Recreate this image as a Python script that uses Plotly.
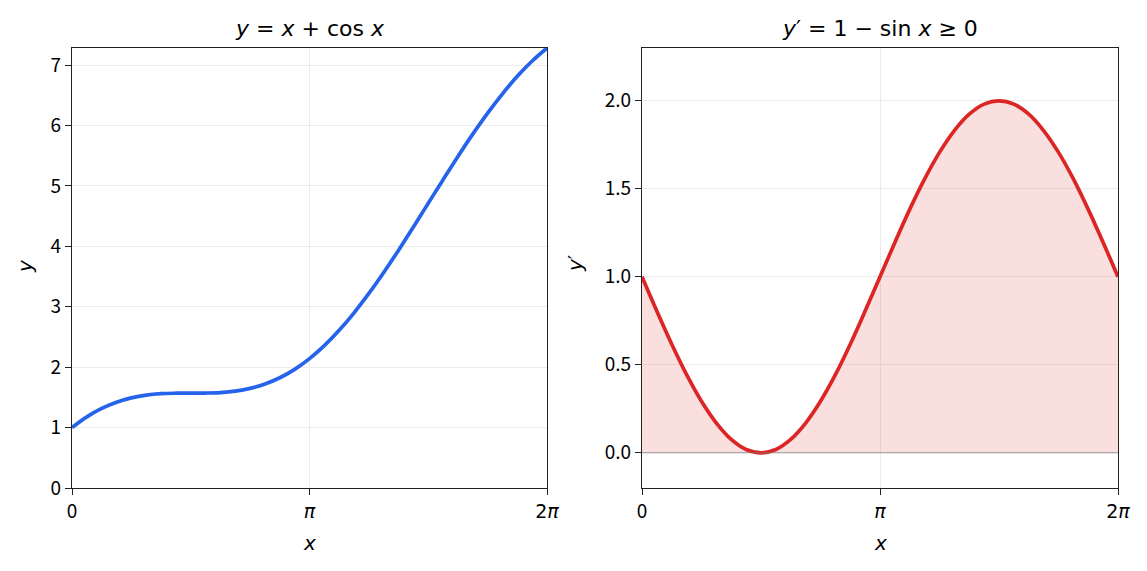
import plotly.graph_objects as go

# sampled x positions (0 .. 2*pi)
x_vals = [0.000, 0.196, 0.393, 0.589, 0.785, 0.982, 1.178, 1.374, 1.571, 1.767, 1.963,
          2.160, 2.356, 2.553, 2.749, 2.945, 3.142, 3.338, 3.534, 3.731, 3.927, 4.123,
          4.320, 4.516, 4.712, 4.909, 5.105, 5.301, 5.498, 5.694, 5.890, 6.087, 6.283]
# y = x + cos x
y_vals = [1.000, 1.177, 1.317, 1.420, 1.492, 1.538, 1.561, 1.569, 1.571, 1.572, 1.580,
          1.604, 1.649, 1.722, 1.825, 1.964, 2.142, 2.357, 2.610, 2.900, 3.220, 3.567,
          3.937, 4.321, 4.712, 5.104, 5.488, 5.857, 6.205, 6.525, 6.814, 7.068, 7.283]
# y' = 1 - sin x
dy_vals = [1.000, 0.805, 0.617, 0.444, 0.293, 0.169, 0.076, 0.019, 0.000, 0.019, 0.076,
           0.169, 0.293, 0.444, 0.617, 0.805, 1.000, 1.195, 1.383, 1.556, 1.707, 1.831,
           1.924, 1.981, 2.000, 1.981, 1.924, 1.831, 1.707, 1.556, 1.383, 1.195, 1.000]

x_tick_vals = [0, 3.14159265, 6.28318531]
x_tick_text = ["0",
               "<span style='font-family:DejaVu Sans'><i>π</i></span>",
               "<span style='font-family:DejaVu Sans'>2<i>π</i></span>"]
left_y_ticks = [0, 1, 2, 3, 4, 5, 6, 7]
right_y_ticks = [0.0, 0.5, 1.0, 1.5, 2.0]
right_y_text = ["0.0", "0.5", "1.0", "1.5", "2.0"]

BLUE = "#2563eb"
RED = "#dc2626"
TICKFONT = dict(family="Noto Sans CJK JP, sans-serif", size=19, color="black")
MATHFONT = dict(family="DejaVu Sans, sans-serif", size=22, color="black")
LABELFONT = dict(family="DejaVu Sans, sans-serif", size=20, color="black")

fig = go.Figure()
fig.add_trace(go.Scatter(x=x_vals, y=y_vals, mode="lines", line=dict(color=BLUE, width=3.7, shape="spline"),
                         xaxis="x", yaxis="y", showlegend=False))
fig.add_trace(go.Scatter(x=x_vals, y=dy_vals, mode="lines", fill="tozeroy",
                         fillcolor="rgba(220,38,38,0.15)",
                         line=dict(color=RED, width=3.7, shape="spline"),
                         xaxis="x2", yaxis="y2", showlegend=False))

axis_common = dict(showline=True, mirror=True, linecolor="#222222", linewidth=1.4,
                   ticks="outside", ticklen=6, tickwidth=1.4, tickcolor="#222222",
                   showgrid=True, gridcolor="#ebebeb", gridwidth=1, zeroline=False,
                   tickfont=TICKFONT, automargin=False)

fig.update_layout(
    width=1147, height=571,
    margin=dict(l=0, r=0, t=0, b=0),
    paper_bgcolor="white", plot_bgcolor="white",
    xaxis=dict(domain=[72/1147, 547/1147], range=[0, 6.28318531], anchor="y",
               tickvals=x_tick_vals, ticktext=x_tick_text, **axis_common),
    yaxis=dict(domain=[1-488/571, 1-48/571], range=[0, 7.2832], anchor="x",
               tickvals=left_y_ticks, **axis_common),
    xaxis2=dict(domain=[642/1147, 1118/1147], range=[0, 6.28318531], anchor="y2",
                tickvals=x_tick_vals, ticktext=x_tick_text, **axis_common),
    yaxis2=dict(domain=[1-488/571, 1-48/571], range=[-0.2, 2.3], anchor="x2",
                tickvals=right_y_ticks, ticktext=right_y_text, **axis_common),
)

fig.add_shape(type="line", xref="x2", yref="y2", x0=0, x1=6.28318531, y0=0, y1=0,
              line=dict(color="rgba(120,120,120,0.7)", width=1))

ann = [
    dict(text="<i>y</i> = <i>x</i> + cos <i>x</i>", x=(72+547)/2/1147, y=1-29/571, font=MATHFONT),
    dict(text="<i>y</i>′ = 1 − sin <i>x</i> ≥ 0", x=(642+1118)/2/1147, y=1-29/571, font=MATHFONT),
    dict(text="<i>x</i>", x=(72+547)/2/1147, y=1-543/571, font=LABELFONT),
    dict(text="<i>x</i>", x=(642+1118)/2/1147, y=1-543/571, font=LABELFONT),
    dict(text="<i>y</i>", x=25/1147, y=1-266/571, textangle=-90, font=LABELFONT),
    dict(text="<i>y</i>′", x=575/1147, y=1-263/571, textangle=-90, font=LABELFONT),
]
for a in ann:
    fig.add_annotation(xref="paper", yref="paper", showarrow=False, xanchor="center", yanchor="middle", **a)

fig.write_html("out.html")
